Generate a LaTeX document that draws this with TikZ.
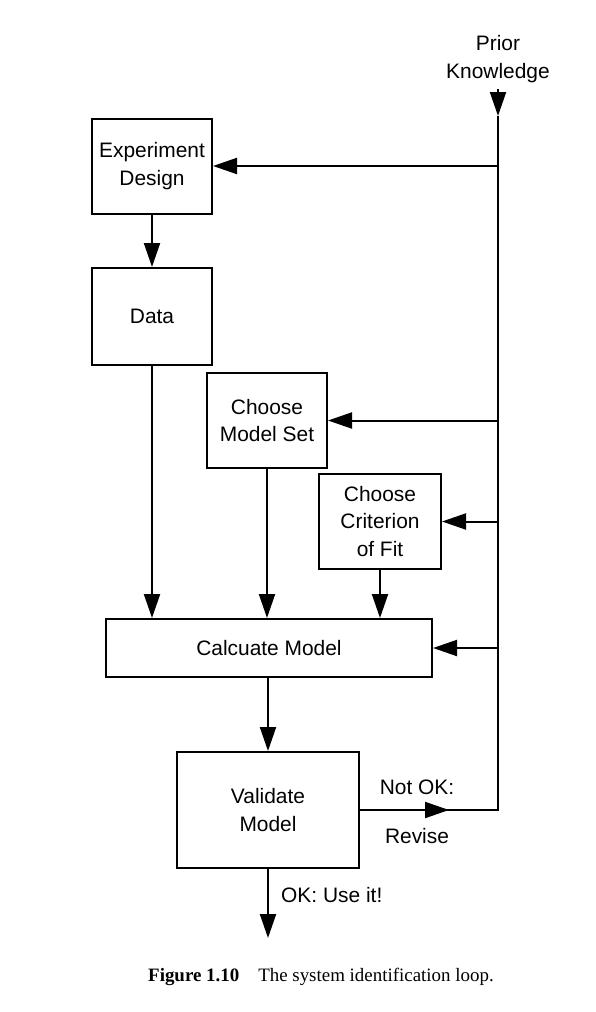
\documentclass[tikz,border=0pt]{standalone}
\usepackage{fontspec}
\setmainfont{Liberation Sans}
\newfontfamily\capfont{Liberation Serif}
\usetikzlibrary{arrows.meta,positioning}

\tikzset{
  caja/.style={draw, line width=2bp, align=center, inner sep=0pt,
    font=\fontsize{21}{28}\selectfont},
  flecha/.style={line width=2bp, -{Triangle[length=24bp,width=16bp]}},
  linea/.style={line width=2bp},
  etiqueta/.style={inner sep=0pt, align=center, font=\fontsize{21}{28}\selectfont}
}

\begin{document}
\begin{tikzpicture}[x=1bp, y=-1bp]
	\useasboundingbox (0,0) rectangle (596,1012);
	% Cajas
	\node[caja, minimum width=120bp, minimum height=95bp] (design) at (152,166) {Experiment\\Design};
	\node[caja, minimum width=120bp, minimum height=97bp] (data) at (152,316.5) {Data};
	\node[caja, minimum width=120bp, minimum height=95bp] (modelset) at (267,420.5) {Choose\\Model Set};
	\node[caja, minimum width=122bp, minimum height=95bp] (crit) at (380,521.5) {Choose\\Criterion\\of Fit};
	\node[caja, minimum width=326bp, minimum height=58bp] (calc) at (269,648) {Calcuate Model};
	\node[caja, minimum width=182bp, minimum height=116bp] (valid) at (268,810) {Validate\\Model};
	\node[etiqueta] (prior) at (498,59) {Prior\\Knowledge};
	% Puntos auxiliares
	\coordinate (top) at (498,116);
	\coordinate (corner) at (498,810);
	\coordinate (salida) at (268,938);
	% Flechas
	\draw[flecha] ([yshift=-6bp]prior.south) -- (top);
	\draw[linea] (valid.east) -- (corner) -- (top);
	\draw[flecha] (valid.east) -- ++(89,0);
	\foreach \n in {design,modelset,crit,calc}      % Realimentacion
	    \draw[flecha] (top |- \n.east) -- (\n.east);
	\foreach \n in {data,modelset,crit}             % Entradas al modelo
	    \draw[flecha] (\n.south) -- (\n.south |- calc.north);
	\draw[flecha] (design) -- (data);
	\draw[flecha] (valid.north |- calc.south) -- (valid.north);
	\draw[flecha] (valid.south) -- (salida);
	% Etiquetas
	\node[etiqueta] (notok) at (417,787) {Not OK:};
	\node[etiqueta] (revise) at (417,836) {Revise};
	\node[etiqueta, anchor=west] (useit) at (281,895) {OK: Use it!};
	\node[anchor=west, inner sep=0pt, font=\capfont\fontsize{19}{22}\selectfont] (caption) at (148,977)
	    {\textbf{Figure 1.10}\quad The system identification loop.};
\end{tikzpicture}
\end{document}
